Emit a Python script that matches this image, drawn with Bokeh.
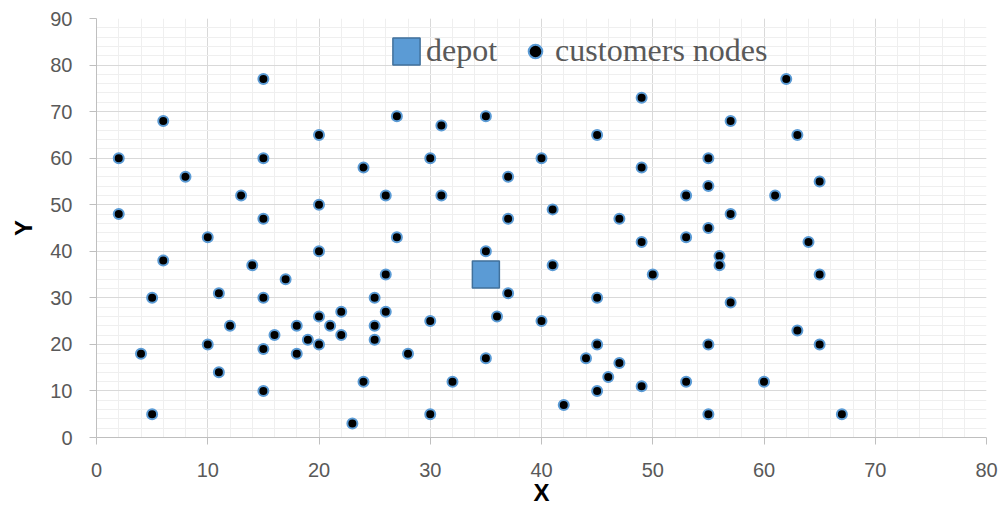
from bokeh.plotting import figure
from bokeh.models import Range1d, SingleIntervalTicker, Legend, LegendItem
from bokeh.embed import file_html
from bokeh.resources import INLINE

depot_x = [35]
depot_y = [35]

cust_x = [41, 35, 55, 55, 15, 25, 20, 10, 55, 30, 20, 50, 30, 15, 30, 10, 5, 20, 15, 45,
          45, 45, 55, 65, 65, 45, 35, 41, 64, 40, 31, 35, 53, 65, 63, 2, 20, 5, 60, 40,
          42, 24, 23, 11, 6, 2, 8, 13, 6, 47, 49, 27, 37, 57, 63, 53, 32, 36, 21, 17,
          12, 24, 27, 15, 62, 49, 67, 56, 37, 37, 57, 47, 44, 46, 49, 49, 53, 61, 57, 56,
          55, 15, 14, 11, 16, 4, 28, 26, 26, 31, 15, 22, 18, 26, 25, 22, 25, 19, 20, 18]
cust_y = [49, 17, 45, 20, 30, 30, 50, 43, 60, 60, 65, 35, 25, 10, 5, 20, 30, 40, 60, 65,
          20, 10, 5, 35, 20, 30, 40, 37, 42, 60, 52, 69, 52, 55, 65, 60, 20, 5, 12, 25,
          7, 12, 3, 14, 38, 48, 56, 52, 68, 47, 58, 43, 31, 29, 23, 12, 12, 26, 24, 34,
          24, 58, 69, 77, 77, 73, 5, 39, 47, 56, 68, 16, 17, 13, 11, 42, 43, 52, 48, 37,
          54, 47, 37, 31, 22, 18, 18, 52, 35, 67, 19, 22, 24, 27, 24, 27, 21, 21, 26, 18]

x_label = "X"
y_label = "Y"
depot_label = "depot"
cust_label = "customers nodes"

p = figure(width=1002, height=508, output_backend="svg", toolbar_location=None,
           x_range=Range1d(0, 80), y_range=Range1d(0, 90),
           min_border_left=96, min_border_right=16, min_border_top=18, min_border_bottom=70)
p.outline_line_color = None
p.background_fill_color = "white"
p.border_fill_color = "white"

p.xaxis.ticker = SingleIntervalTicker(interval=10, num_minor_ticks=5)
p.yaxis.ticker = SingleIntervalTicker(interval=10, num_minor_ticks=5)

for g in (p.xgrid, p.ygrid):
    g.grid_line_color = "#d9d9d9"
    g.grid_line_width = 1
    g.minor_grid_line_color = "#efefef"
    g.minor_grid_line_width = 1

for ax in (p.xaxis, p.yaxis):
    ax.axis_line_color = "#bfbfbf"
    ax.axis_line_width = 1
    ax.major_tick_line_color = "#bfbfbf"
    ax.major_tick_out = 7
    ax.major_tick_in = 0
    ax.minor_tick_line_color = None
    ax.major_label_text_font = "Liberation Sans"
    ax.major_label_text_font_size = "20px"
    ax.major_label_text_color = "#595959"
    ax.axis_label_text_font = "Liberation Sans"
    ax.axis_label_text_font_size = "24px"
    ax.axis_label_text_font_style = "bold"
    ax.axis_label_text_color = "#000000"

p.xaxis.axis_label = x_label
p.yaxis.axis_label = y_label
p.xaxis.major_label_standoff = 18
p.yaxis.major_label_standoff = 17
p.xaxis.axis_label_standoff = -1
p.yaxis.axis_label_standoff = 10

r_cust = p.scatter(cust_x, cust_y, size=10, marker="circle", fill_color="black",
                   line_color="#5b9bd5", line_width=2)
r_depot = p.rect(depot_x, depot_y, width=27, height=27, width_units="screen",
                 height_units="screen", fill_color="#5b9bd5", line_color="#41719c",
                 line_width=1.5)

legend = Legend(items=[LegendItem(label=depot_label, renderers=[r_depot]),
                       LegendItem(label=cust_label, renderers=[r_cust])],
                orientation="horizontal", location=(293, 368),
                glyph_width=34, glyph_height=34, label_standoff=3, spacing=21,
                padding=0, margin=0, border_line_color=None,
                background_fill_alpha=0,
                label_text_font="Liberation Serif", label_text_font_size="32px",
                label_text_color="#595959")
p.add_layout(legend)

open("out.html", "w").write(file_html(p, INLINE))
